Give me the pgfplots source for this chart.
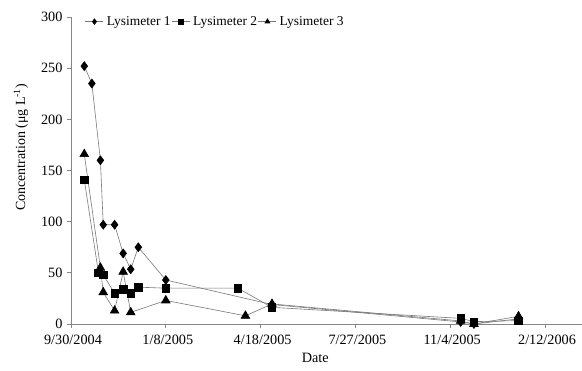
\documentclass[border=0pt]{standalone}
\usepackage{pgfplots}
\pgfplotsset{compat=1.18}
\usepackage{fontspec}
\setmainfont{Liberation Serif}
\definecolor{linegray}{RGB}{120,120,120}
\definecolor{axisgray}{RGB}{134,134,134}
\begin{document}
\begin{tikzpicture}
\begin{axis}[
  name=ax,
  scale only axis, width=511bp, height=307bp,
  xmin=0, xmax=539, ymin=0, ymax=300,
  axis x line*=bottom, axis y line*=left,
  axis line style={axisgray, line width=0.7pt},
  xtick={0,100,200,300,400,500},
  xticklabels={9/30/2004,1/8/2005,4/18/2005,7/27/2005,11/4/2005,2/12/2006},
  ytick={0,50,100,150,200,250,300},
  tick align=outside, major tick length=4bp,
  tick style={axisgray, line width=0.7pt},
  ticklabel style={font=\fontsize{14.3}{16}\selectfont},
  /pgf/number format/assume math mode=true,
  xticklabel style={yshift=-4bp, xshift=2bp},
  yticklabel style={xshift=-1bp},
  xlabel={Date},
  xlabel style={font=\fontsize{14.3}{16}\selectfont, at={(axis description cs:0.478,0)}, anchor=north, yshift=-26bp},
  ylabel={Concentration (μg L\textsuperscript{-1})},
  ylabel style={font=\fontsize{14}{16}\selectfont, at={(axis description cs:-0.098,0.575)}, anchor=center, rotate=0},
  clip=false,
  legend columns=-1,
  legend style={draw=none, fill=none, at={(axis description cs:0.0215,0.985)}, anchor=west,
    font=\fontsize{13.5}{15}\selectfont, nodes={inner xsep=1bp, inner ysep=1bp},
    /tikz/every even column/.append style={column sep=0bp},
    /tikz/every odd column/.append style={column sep=2bp}},
  legend image code/.code={\draw[#1, mark size=2.8pt, mark repeat=2, mark phase=2] plot coordinates {(0bp,0bp) (9bp,0bp) (18bp,0bp)};},
]
\addplot[linegray, line width=0.6pt, mark=diamond*, mark size=4.5pt, mark options={black, fill=black, solid}] coordinates {
  (14,252) (22,235) (31,160) (34,97) (46,97) (55,69) (63,53.5) (71,75) (100,43) (212,19) (411,2) (425,0) (472,5)
};
\addlegendentry{Lysimeter 1}
\addplot[linegray, line width=0.6pt, mark=square*, mark size=3.8pt, mark options={black, fill=black, solid}] coordinates {
  (14,141) (29,50) (34,48) (46,30) (55,34) (63,30) (71,36) (100,35) (176,35) (212,16.3) (411,5.5) (425,2.3) (472,3.3)
};
\addlegendentry{Lysimeter 2}
\addplot[linegray, line width=0.6pt, mark=triangle*, mark size=5pt, mark options={black, fill=black, solid}] coordinates {
  (14,166) (31,55) (34,31) (46,13) (55,51) (63,11.4) (100,23) (184,8) (212,19.6) (411,3) (425,0) (472,7.5)
};
\addlegendentry{Lysimeter 3}
\end{axis}
\pgfresetboundingbox
\path[use as bounding box] ([xshift=-71bp,yshift=-47bp]ax.south west) rectangle ([xshift=0bp,yshift=17bp]ax.north east);
\end{tikzpicture}
\end{document}
